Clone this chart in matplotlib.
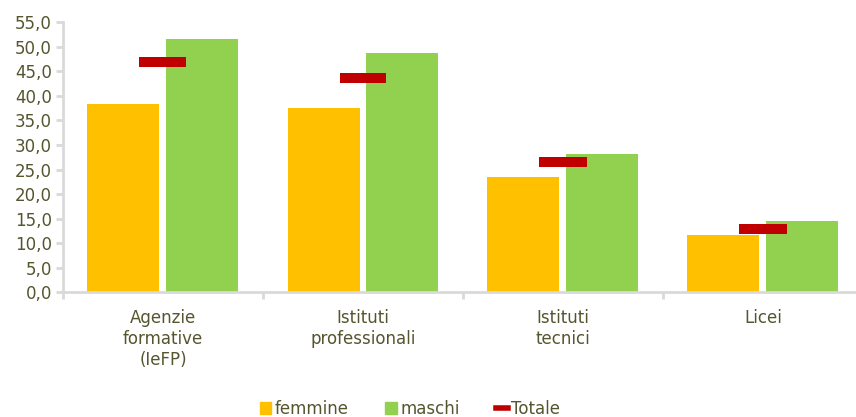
import matplotlib
matplotlib.use("Agg")
import matplotlib.pyplot as plt
import numpy as np
from matplotlib.lines import Line2D
from matplotlib.patches import Patch

categories = ["Agenzie\nformative\n(IeFP)", "Istituti\nprofessionali", "Istituti\ntecnici", "Licei"]
femmine = [38.4, 37.6, 23.5, 11.7]
maschi = [51.5, 48.7, 28.2, 14.5]
totale = [46.9, 43.7, 26.6, 12.9]
yticks = np.arange(0, 55.1, 5)

plt.rcParams['font.family'] = ['DejaVu Sans']
txt = '#55552f'
grey = '#d9d9d9'
fs = 12

fig = plt.figure(figsize=(8.56, 4.17), dpi=100)
ax = fig.add_axes([63/856, (417-292.3)/417, 800/856, 270/417])

x = np.arange(len(categories))
w = 0.36
off = 0.1975
ax.bar(x - off, femmine, w, color='#ffc000', label='femmine', zorder=2)
ax.bar(x + off, maschi, w, color='#92d050', label='maschi', zorder=2)
ax.hlines(totale, x - 0.1175, x + 0.1175, colors='#c00000', lw=7.2, zorder=3)

ax.set_xlim(-0.5, 3.5)
ax.set_ylim(0, 55)
ax.set_yticks(yticks)
ax.set_yticklabels([f"{v:.1f}".replace('.', ',') for v in yticks], color=txt, fontsize=fs)

ax.set_xticks(np.arange(-0.5, 3.6, 1))
ax.set_xticklabels([])
ax.set_xticks(x, minor=True)
ax.set_xticklabels(categories, minor=True, color=txt, fontsize=fs, linespacing=1.2)
ax.tick_params(axis='x', which='minor', length=0, pad=12)
ax.tick_params(axis='x', which='major', length=5, width=2, color=grey, direction='out')
ax.tick_params(axis='y', length=5, width=2, color=grey, direction='out', pad=3)

for s in ['top', 'right']:
    ax.spines[s].set_visible(False)
for s in ['left', 'bottom']:
    ax.spines[s].set_color(grey)
    ax.spines[s].set_linewidth(2)

handles = [Patch(color='#ffc000', label='femmine'),
           Patch(color='#92d050', label='maschi'),
           Line2D([0], [0], color='#c00000', lw=4, label='Totale')]
leg = fig.legend(handles=handles, loc='center', bbox_to_anchor=(410/856, 1 - 409/417),
                 ncol=3, frameon=False, fontsize=fs, handlelength=0.7, handleheight=0.7,
                 handletextpad=0.2, columnspacing=2.2)
for t in leg.get_texts():
    t.set_color(txt)

fig.savefig('out.png', dpi=100)
